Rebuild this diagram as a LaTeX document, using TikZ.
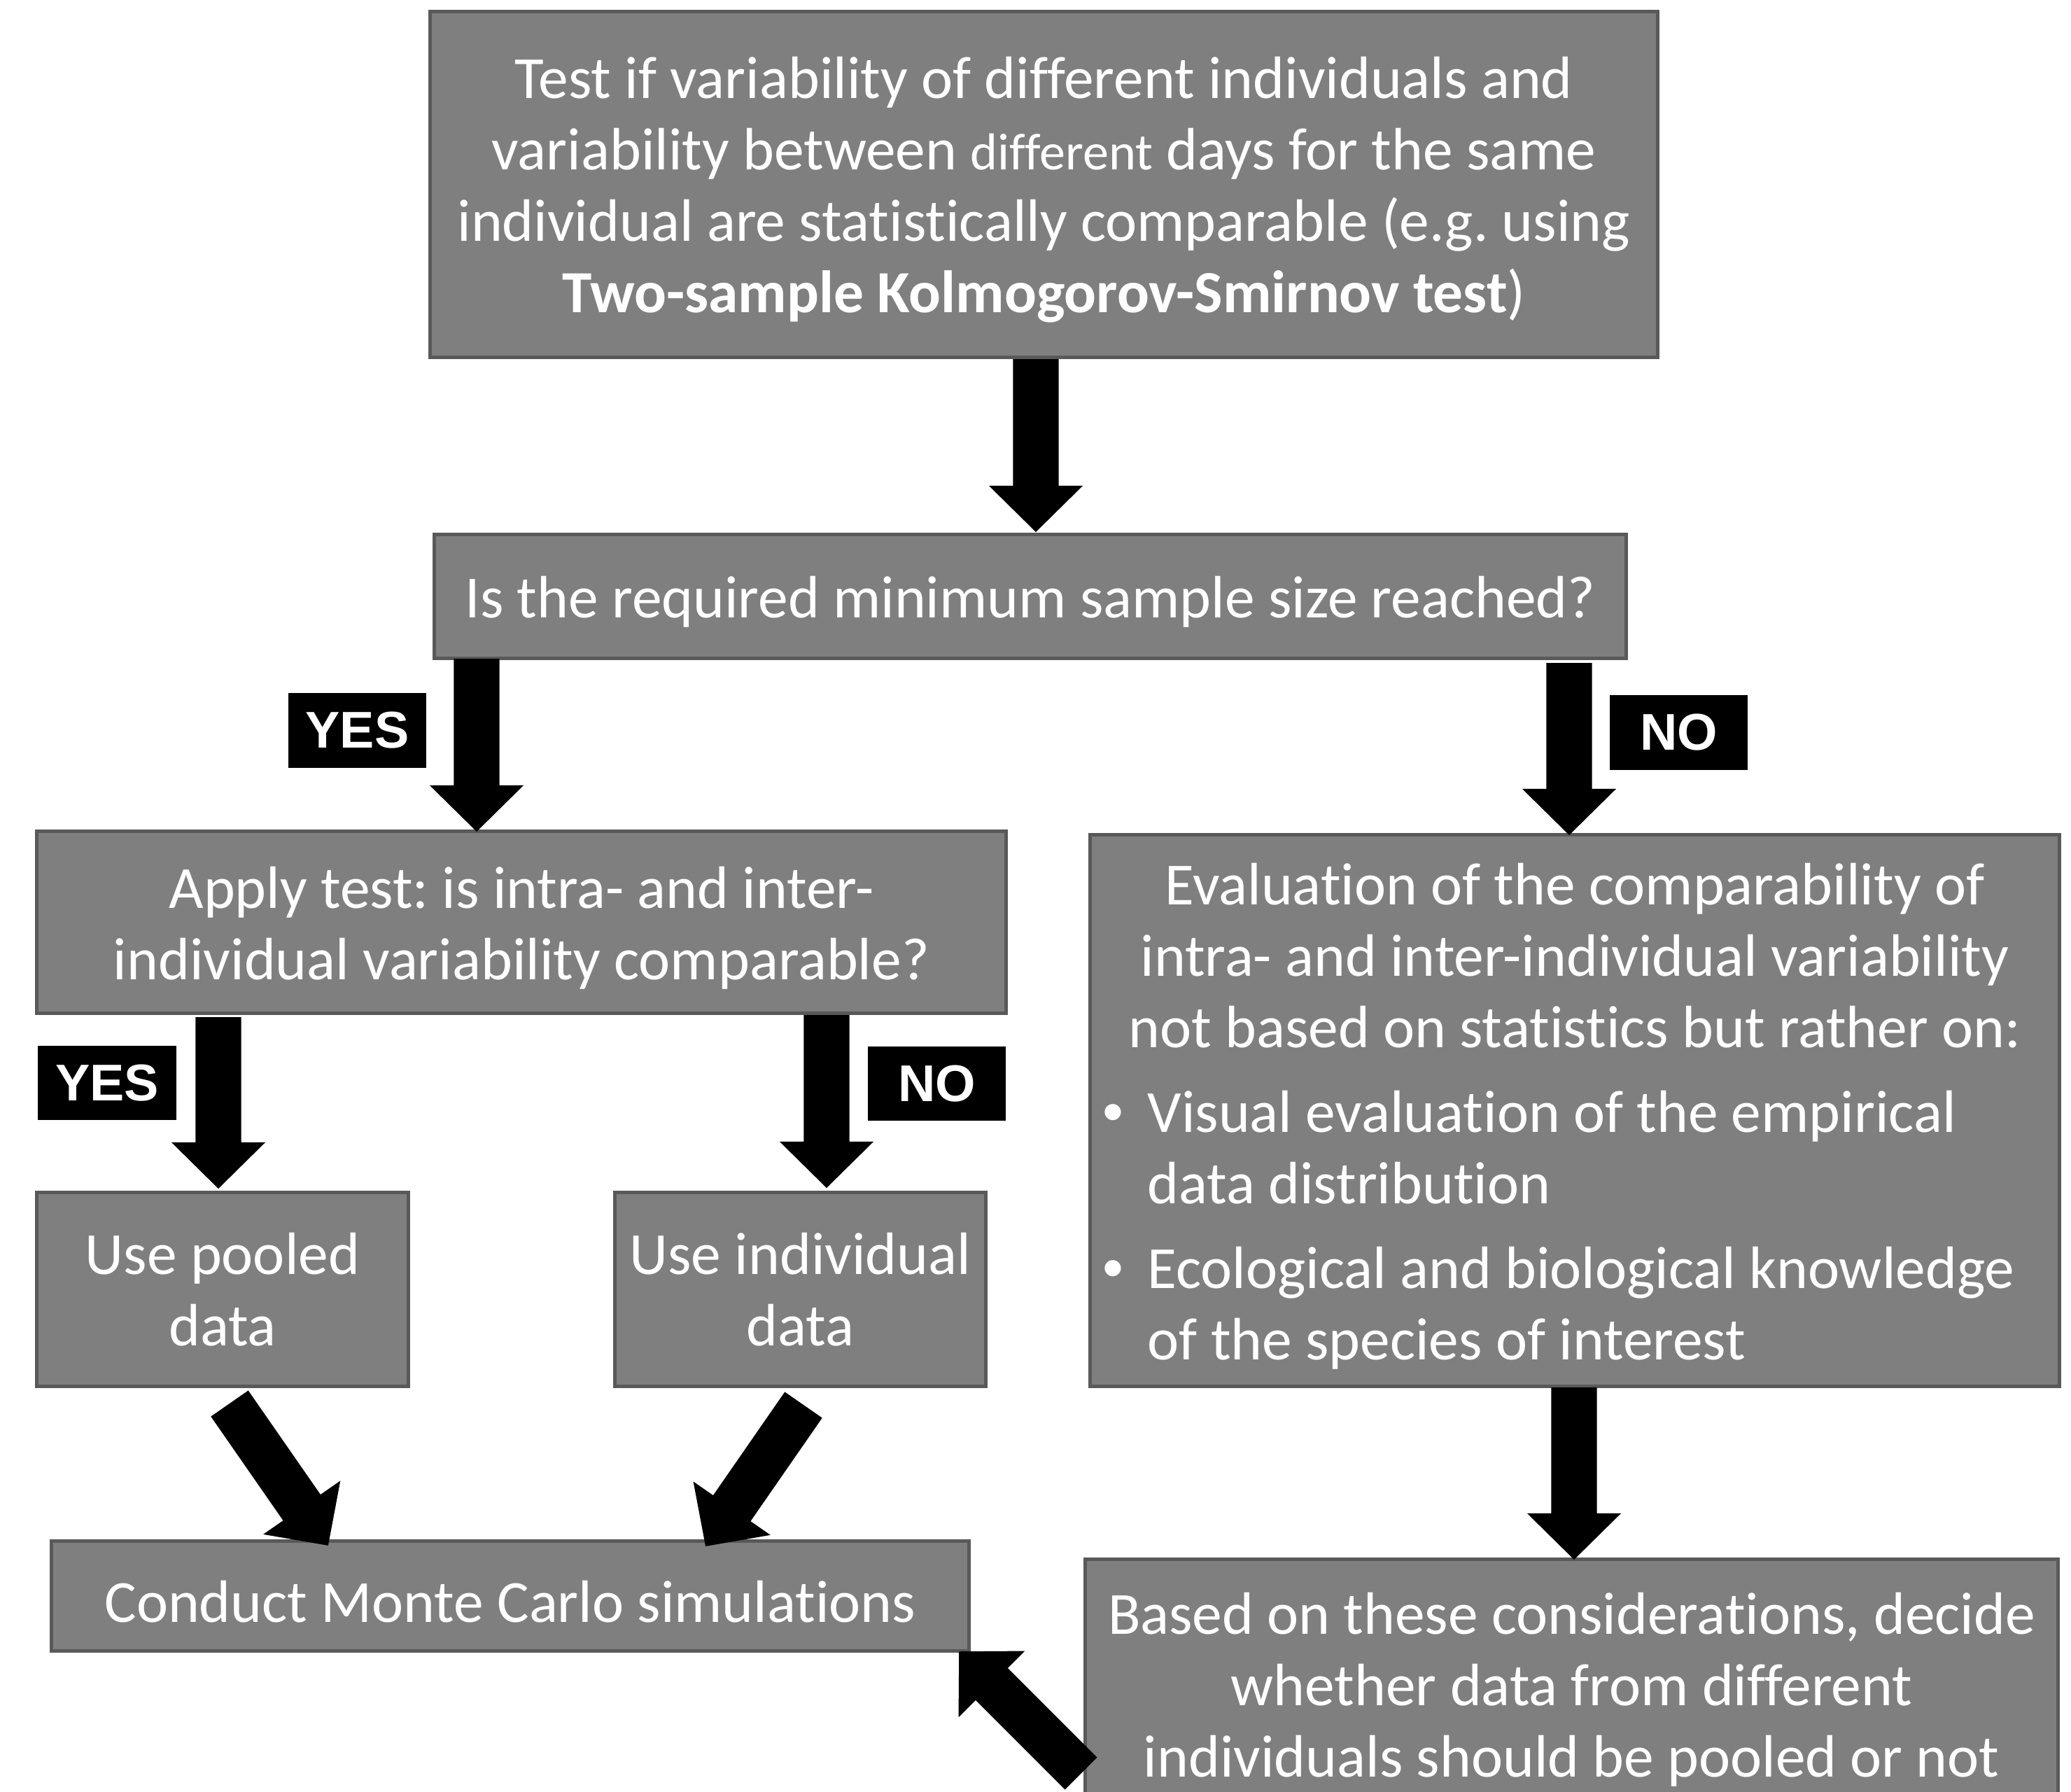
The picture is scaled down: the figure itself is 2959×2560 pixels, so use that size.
\documentclass[tikz,border=0pt]{standalone}
\usepackage{fontspec}
\setmainfont{Carlito}[Ligatures=NoCommon]
\newfontfamily\labfont{Liberation Sans}
\usetikzlibrary{calc}
\frenchspacing
\definecolor{boxfill}{RGB}{127,127,127}
\definecolor{boxline}{RGB}{89,89,89}
\newcommand{\mainsz}{\fontsize{24.3}{29}\selectfont}
\newcommand{\labsz}{\labfont\bfseries\fontsize{21}{25}\selectfont}
\newcommand{\bul}{\llap{\makebox[0.64cm][l]{\labfont •}}}
% block arrow between two named coordinates
\newcommand{\shw}{0.325cm}
\newcommand{\hhw}{0.67cm}
\newcommand{\hl}{0.66cm}
\newcommand{\barrow}[2]{%
  \pgfpointdiff{\pgfpointanchor{#1}{center}}{\pgfpointanchor{#2}{center}}%
  \pgfgetlastxy{\bdx}{\bdy}%
  \pgfmathsetmacro{\bang}{atan2(\bdy,\bdx)}%
  \pgfmathsetmacro{\blen}{veclen(\bdx,\bdy)}%
  \fill[black, shift={(#1)}, rotate=\bang]
    (0pt,-\shw) -- (\blen pt-\hl,-\shw) -- (\blen pt-\hl,-\hhw) -- (\blen pt,0pt)
    -- (\blen pt-\hl,\hhw) -- (\blen pt-\hl,\shw) -- (0pt,\shw) -- cycle;}
\begin{document}
\frenchspacing
\begin{tikzpicture}[x=0.01cm, y=-0.01cm,
  box/.style={draw=boxline, line width=0.05cm, fill=boxfill, inner sep=0pt},
  txt/.style={text=white, inner sep=0pt, align=center, font=\mainsz\frenchspacing},
  lab/.style={fill=black, text=white, inner sep=0pt, font=\labsz,
    minimum width=1.97cm, minimum height=1.06cm}]
\path[use as bounding box] (0,0) rectangle (2959,2560);
\clip (0,0) rectangle (2959,2560);
\fill[white] (0,0) rectangle (2959,2560);

% boxes
\node[box, minimum width=17.53cm, minimum height=4.93cm] (top) at (1491.5,263.5) {};
\node[box, minimum width=17.02cm, minimum height=1.76cm] (q) at (1472,852) {};
\node[box, minimum width=13.84cm, minimum height=2.59cm] (apply) at (745,1317.5) {};
\node[box, minimum width=13.84cm, minimum height=7.87cm] (eval) at (2250,1586.5) {};
\node[box, minimum width=5.30cm, minimum height=2.76cm] (pooled) at (318,1842) {};
\node[box, minimum width=5.29cm, minimum height=2.76cm] (indiv) at (1143.5,1842) {};
\node[box, minimum width=13.10cm, minimum height=1.56cm] (mc) at (729,2280) {};
\node[box, minimum width=13.89cm, minimum height=3.56cm] (decide) at (2245.5,2406) {};

% texts
\node[txt] (top-t) at ($(top)+(0,8)$)
  {Test if variability of different individuals and\\
   variability between {\fontsize{21.1}{29}\selectfont different} days for the same\\
   individual are statistically comparable (e.g. using\\
   \textbf{Two-sample Kolmogorov-Smirnov test})};
\node[txt] (q-t) at ($(q)+(0,8)$) {Is the required minimum sample size reached?};
\node[txt] (apply-t) at ($(apply)+(0,8)$)
  {Apply test: is intra- and inter-\\individual variability comparable?};
\node[txt] (eval-t) at ($(eval)+(0,8)$)
  {\begin{minipage}{13.84cm}\mainsz
   \centering Evaluation of the comparability of\\
   intra- and inter-individual variability\\
   not based on statistics but rather on:\par
   \vspace{5.4pt}
   \raggedright\leftskip=0.82cm
   \noindent\bul Visual evaluation of the empirical\\
   data distribution\par
   \vspace{5.4pt}
   \noindent\bul Ecological and biological knowledge\\
   of the species of interest\par
   \end{minipage}};
\node[txt] (pooled-t) at ($(pooled)+(0,0)$) {Use pooled\\data};
\node[txt] (indiv-t) at ($(indiv)+(0,0)$) {Use individual\\data};
\node[txt] (mc-t) at ($(mc)+(0,8)$) {Conduct Monte Carlo simulations};
\node[txt] (decide-t) at ($(decide)+(0,8)$)
  {Based on these considerations, decide\\
   whether data from different\\
   individuals should be pooled or not};

% labels
\node[lab] (yes1) at (510.5,1043.5) {YES};
\node[lab] (no1)  at (2398.5,1046.5) {NO};
\node[lab] (yes2) at (153,1547) {YES};
\node[lab] (no2)  at (1338.5,1548) {NO};

% arrows
\coordinate (a1s) at (1480,513);   \coordinate (a1e) at (1480,760);
\coordinate (a2s) at (681,941);    \coordinate (a2e) at (681,1188);
\coordinate (a3s) at (2242,947);   \coordinate (a3e) at (2242,1193);
\coordinate (a4s) at (312,1453);   \coordinate (a4e) at (312,1698);
\coordinate (a5s) at (1181,1450);  \coordinate (a5e) at (1181,1697);
\coordinate (a6s) at (328,2005);   \coordinate (a6e) at (469,2208);
\coordinate (a7s) at (1148,2007);  \coordinate (a7e) at (1008,2209);
\coordinate (a8s) at (2249,1982);  \coordinate (a8e) at (2249,2228);
\coordinate (a9s) at (1544.5,2533.5); \coordinate (a9e) at (1370,2359);

\barrow{a1s}{a1e}
\barrow{a2s}{a2e}
\barrow{a3s}{a3e}
\barrow{a4s}{a4e}
\barrow{a5s}{a5e}
\barrow{a6s}{a6e}
\barrow{a7s}{a7e}
\barrow{a8s}{a8e}
\barrow{a9s}{a9e}
\end{tikzpicture}
\end{document}
